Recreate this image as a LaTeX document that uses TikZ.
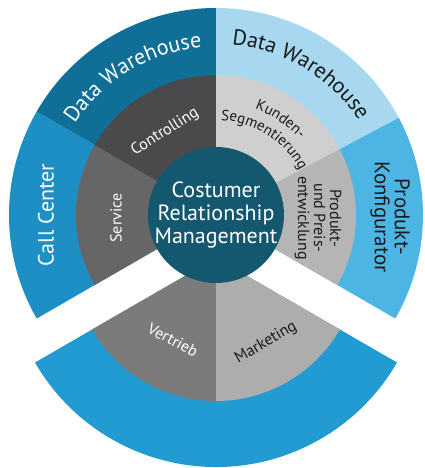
\documentclass[tikz,border=0pt]{standalone}
\usepackage{fontspec}
\setmainfont{PT Sans}
\usetikzlibrary{decorations.text}
\definecolor{ccblue}{HTML}{1D8FC4}
\definecolor{botblue}{HTML}{229BD3}
\definecolor{dwdark}{HTML}{0F6F97}
\definecolor{dwlight}{HTML}{A8D8EF}
\definecolor{konfblue}{HTML}{4DB5E3}
\definecolor{gcontrol}{HTML}{4A4A4C}
\definecolor{gservice}{HTML}{666666}
\definecolor{gkunden}{HTML}{CFCFCF}
\definecolor{gprodukt}{HTML}{B5B5B5}
\definecolor{gvertrieb}{HTML}{7B7B7B}
\definecolor{gmarketing}{HTML}{ADADAD}
\definecolor{crmteal}{HTML}{14586F}
\definecolor{txtdark}{HTML}{1A1A1A}
\newcommand\pieslice[5]{\fill[#5] (#1) -- ([shift={(#2:#4)}]#1) arc[start angle=#2, end angle=#3, radius=#4] -- cycle;}
% center, radius, center angle, half span, colour, font, text  (clockwise, letters outward)
\newcommand\cwtext[7]{\path[decorate,decoration={text along path,text align=center,text color=#5,text={|#6|#7}}] ([shift={(#3+#4:#2)}]#1) arc[start angle=#3+#4, end angle=#3-#4, radius=#2];}
\tikzset{
  outerfont/.style={font=\fontsize{22}{20}\selectfont},
  innerfont/.style={font=\fontsize{16}{16}\selectfont},
}
\begin{document}
\begin{tikzpicture}[x=1pt,y=1pt]
\useasboundingbox (0,0) rectangle (424,468);
\fill[white] (0,0) rectangle (424,468);
\coordinate (C1) at (216,253);
\coordinate (C2) at (216,210);
% upper piece, outer ring
\pieslice{C1}{150}{210}{207}{ccblue}
\pieslice{C1}{90}{150}{207}{dwdark}
\pieslice{C1}{28}{90}{207}{dwlight}
\pieslice{C1}{-30}{28}{207}{konfblue}
% upper piece, inner ring
\pieslice{C1}{150}{210}{140}{gservice}
\pieslice{C1}{90}{150}{140}{gcontrol}
\pieslice{C1}{28}{90}{140}{gkunden}
\pieslice{C1}{-30}{28}{140}{gprodukt}
% lower (exploded) piece
\pieslice{C2}{210}{330}{209}{botblue}
\pieslice{C2}{210}{270}{143}{gvertrieb}
\pieslice{C2}{270}{330}{143}{gmarketing}
% centre
\fill[crmteal] (C1) circle[radius=68];
\node[name=crm, text=white, align=center, font=\fontsize{22}{23}\selectfont] at (C1) {Costumer\\Relationship\\Management};
% outer labels
\cwtext{C1}{168}{121}{42}{white}{\fontsize{22}{22}\selectfont}{Data Warehouse}
\cwtext{C1}{171}{59}{42}{txtdark}{\fontsize{22}{22}\selectfont}{Data Warehouse}
\node[name=callc, rotate=90, text=white, outerfont] at (46,253) {Call Center};
\node[name=konf, rotate=-90, text=txtdark, align=center, font=\fontsize{21}{20}\selectfont] at (390,251) {Produkt-\\Konfigurator};
% inner labels
\node[name=controlling, rotate=32, text=white, innerfont] at (165,336) {Controlling};
\cwtext{C1}{113}{56}{45}{txtdark}{\fontsize{15}{16}\selectfont}{Kunden-}
\cwtext{C1}{95}{57.5}{45}{txtdark}{\fontsize{15}{16}\selectfont}{Segmentierung}
\node[name=service, rotate=90, text=white, innerfont] at (116,250) {Service};
\node[name=prod, rotate=-90, text=txtdark, align=center, font=\fontsize{16}{16}\selectfont] at (318,250) {Produkt-\\und Preis-\\entwicklung};
\node[name=vertrieb, rotate=-28, text=white, innerfont] at (173,128) {Vertrieb};
\node[name=marketing, rotate=30.5, text=txtdark, innerfont] at (266,125) {Marketing};
\end{tikzpicture}
\end{document}
